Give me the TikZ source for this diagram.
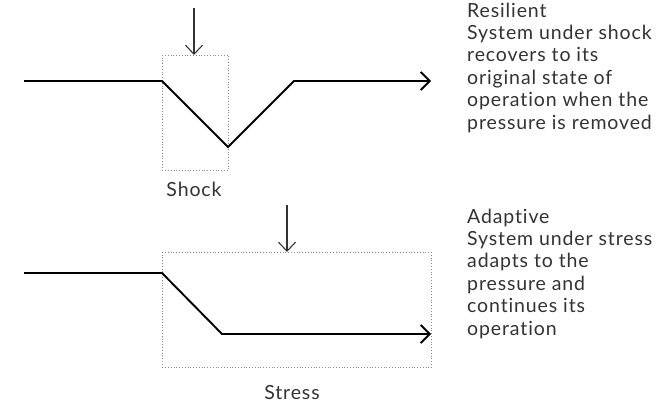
\documentclass[tikz,border=0pt]{standalone}
\usepackage{fontspec}
\setmainfont[Ligatures=NoCommon,LetterSpace=4.5]{Lato}
\usetikzlibrary{arrows.meta}
\definecolor{inkgray}{HTML}{333333}
\definecolor{framegray}{HTML}{8A8A8A}
\begin{document}
\begin{tikzpicture}[x=1pt,y=-1pt,
  trend/.style={line width=1.9pt,black,line join=miter},
  trendend/.style={trend,-{Straight Barb[length=9pt,width=18pt,line width=1.9pt]}},
  push/.style={line width=1.1pt,inkgray,-{Straight Barb[length=9pt,width=17pt,line width=1.1pt]}},
  zone/.style={draw=framegray,dotted,line width=0.8pt,inner sep=0pt,anchor=north west},
  label/.style={inkgray,font=\fontsize{19.5}{22.4}\selectfont,inner sep=0pt},
  note/.style={label,align=left,anchor=north west}]
\useasboundingbox (0,0) rectangle (659,406);

% shock: sudden dip and recovery
\node[zone,minimum width=66pt,minimum height=115pt] (shockbox) at (162,55) {};
\coordinate (s0) at (24,81);
\coordinate (s1) at (162,81);
\coordinate (s2) at (228,147);
\coordinate (s3) at (294,81);
\coordinate (s4) at (431,81);
\draw[trendend] (s0) -- (s1) -- (s2) -- (s3) -- (s4);
\coordinate (shockfrom) at (194,8);
\draw[push] (shockfrom) -- (shockfrom |- shockbox.north);
\node[label,anchor=base] (shocklbl) at (194,197) {Shock};

% stress: decline to a new steady level
\node[zone,minimum width=269pt,minimum height=115pt] (stressbox) at (162,252) {};
\coordinate (t0) at (24,273);
\coordinate (t1) at (162,273);
\coordinate (t2) at (222,334);
\coordinate (t3) at (431,334);
\draw[trendend] (t0) -- (t1) -- (t2) -- (t3);
\coordinate (stressfrom) at (287,205);
\draw[push] (stressfrom) -- (stressfrom |- stressbox.north);
\node[label,anchor=base] (stresslbl) at (292,399) {Stress};

% descriptions
\node[note] (resilient) at (467,2.5) {Resilient\\System under shock\\recovers to its\\original state of\\operation when the\\pressure is removed};
\node[note] (adaptive) at (467,208.5) {Adaptive\\System under stress\\adapts to the\\pressure and\\continues its\\operation};
\end{tikzpicture}
\end{document}
